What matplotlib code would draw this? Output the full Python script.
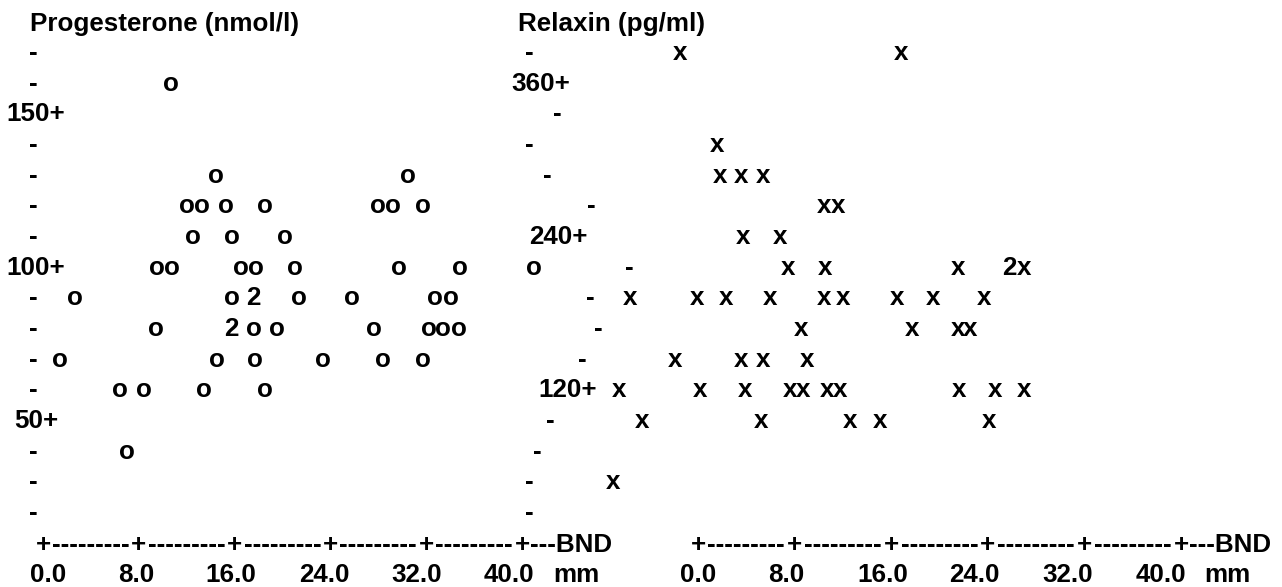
import matplotlib
matplotlib.use('Agg')
import matplotlib.pyplot as plt
from matplotlib.transforms import offset_copy, blended_transform_factory

W, H, DPI = 1282, 587, 100
FONT = ['Liberation Sans', 'DejaVu Sans']
FS = 18.7

# progesterone (nmol/l) against follicle size (mm); n = count printed at that spot
prog_mm = [10.7,
           14.4, 30.5,
           12.0, 13.3, 15.3, 18.5, 28.0, 29.2, 31.7,
           12.5, 15.8, 20.2,
           9.5, 10.8, 16.5, 17.8, 21.0, 29.7, 34.8, 41.0,
           2.7, 15.8, 17.6, 21.4, 25.8, 32.7, 34.1,
           9.4, 15.7, 17.6, 19.5, 27.6, 32.2, 33.4, 34.7,
           1.4, 14.5, 17.7, 23.4, 28.4, 31.7,
           6.4, 8.4, 13.4, 18.5,
           7.0]
prog_val = [160,
            130, 130,
            120, 120, 120, 120, 120, 120, 120,
            110, 110, 110,
            100, 100, 100, 100, 100, 100, 100, 100,
            90, 90, 90, 90, 90, 90, 90,
            80, 80, 80, 80, 80, 80, 80, 80,
            70, 70, 70, 70, 70, 70,
            60, 60, 60, 60,
            40]
prog_n = [1] * len(prog_mm)
prog_n[23] = 2   # "2" at 90
prog_n[29] = 2   # "2" at 80

# relaxin (pg/ml) against follicle size (mm)
relax_mm = [-1.5, 16.8,
            1.6,
            1.8, 3.6, 5.4,
            10.4, 11.6,
            3.7, 6.8,
            7.5, 10.5, 21.5, 25.8, 27.0,
            -5.6, -0.1, 2.3, 6.0, 10.4, 12.0, 16.5, 19.5, 23.7,
            8.5, 17.7, 21.5, 22.5,
            -1.9, 3.6, 5.4, 9.0,
            -6.5, 0.2, 3.9, 7.6, 8.7, 10.7, 11.8, 21.6, 24.6, 27.0,
            -4.6, 5.2, 12.6, 15.1, 24.1,
            -7.0]
relax_val = [384, 384,
             312,
             288, 288, 288,
             264, 264,
             240, 240,
             216, 216, 216, 216, 216,
             192, 192, 192, 192, 192, 192, 192, 192, 192,
             168, 168, 168, 168,
             144, 144, 144, 144,
             120, 120, 120, 120, 120, 120, 120, 120, 120, 120,
             96, 96, 96, 96, 96,
             48]
relax_n = [1] * len(relax_mm)
relax_n[13] = 2  # "2x" at 216

x_ticks = [0, 8, 16, 24, 32, 40]
x_labels = ['0.0', '8.0', '16.0', '24.0', '32.0', '40.0']

prog_major = [150, 100, 50]
prog_major_lbl = ['150+', '100+', '50+']
prog_minor = [170, 160, 140, 130, 120, 110, 90, 80, 70, 60, 40, 30, 20]

relax_major = [360, 240, 120]
relax_major_lbl = ['360+', '240+', '120+']
relax_minor = [384, 336, 312, 288, 264, 216, 192, 168, 144, 96, 72, 48, 24]

# ---- layout (pixel positions of the printed text) ----
prog_major_right = [65, 65, 58]
prog_minor_x = [33] * len(prog_minor)
relax_major_right = [570, 587, 597]
relax_minor_x = [529, 557, 529, 547, 591, 629, 590, 598, 582, 550, 537, 529, 529]
prog_label_x = [0.4, 7.8, 15.7, 23.5, 31.2, 38.9, 44.5]
relax_label_x = [0.0, 7.3, 15.3, 22.9, 30.6, 38.3, 43.8]

style = dict(fontsize=FS, fontweight='bold', family=FONT, color='black')

fig = plt.figure(figsize=(W / DPI, H / DPI), dpi=DPI)
fig.patch.set_facecolor('white')

ax1 = fig.add_axes([43 / W, (H - 513) / H, 479 / W, 460 / H])
ax1.set_xlim(0, 40)
ax1.set_ylim(20, 170)
ax2 = fig.add_axes([698 / W, (H - 513) / H, 483 / W, 460 / H])
ax2.set_xlim(0, 40)
ax2.set_ylim(24, 384)
for ax in (ax1, ax2):
    ax.axis('off')


def draw_panel(ax, title, title_x, xs, ys, ns, mark, major, major_lbl, major_right,
               minor, minor_x, label_x):
    # glyphs sit on a text baseline a few pixels below the row centre
    tr = offset_copy(ax.transData, fig=fig, y=-7, units='dots')
    for x, y, n in zip(xs, ys, ns):
        ax.text(x, y, mark if n == 1 else str(n), transform=tr,
                ha='center', va='baseline', **style)

    ytr = offset_copy(blended_transform_factory(fig.transFigure, ax.transData),
                      fig=fig, y=-7, units='dots')
    for v, s, r in zip(major, major_lbl, major_right):
        ax.text(r / W, v, s, transform=ytr, ha='right', va='baseline', **style)
    for v, c in zip(minor, minor_x):
        ax.text(c / W, v, '-', transform=ytr, ha='center', va='baseline', **style)

    # printed x axis: +---------+ ... +---BND
    atr = offset_copy(ax.get_xaxis_transform(), fig=fig, y=-39, units='dots')
    for t in x_ticks:
        ax.text(t, 0, '+', transform=atr, ha='center', va='baseline', **style)
    for a, b in zip(x_ticks[:-1], x_ticks[1:]):
        ax.text((a + b) / 2, 0, '-' * 9, transform=atr, ha='center', va='baseline', **style)
    btr = offset_copy(atr, fig=fig, x=8, units='dots')
    ax.text(x_ticks[-1], 0, '---BND', transform=btr, ha='left', va='baseline', **style)

    ltr = offset_copy(ax.get_xaxis_transform(), fig=fig, y=-69, units='dots')
    for x, s in zip(label_x, x_labels + ['mm']):
        ax.text(x, 0, s, transform=ltr, ha='center', va='baseline', **style)

    fig.text(title_x / W, 1 - 31 / H, title, ha='left', va='baseline', **style)


draw_panel(ax1, 'Progesterone (nmol/l)', 30, prog_mm, prog_val, prog_n, 'o',
           prog_major, prog_major_lbl, prog_major_right, prog_minor, prog_minor_x,
           prog_label_x)
draw_panel(ax2, 'Relaxin (pg/ml)', 518, relax_mm, relax_val, relax_n, 'x',
           relax_major, relax_major_lbl, relax_major_right, relax_minor, relax_minor_x,
           relax_label_x)

fig.savefig('out.png', dpi=DPI, facecolor='white')
